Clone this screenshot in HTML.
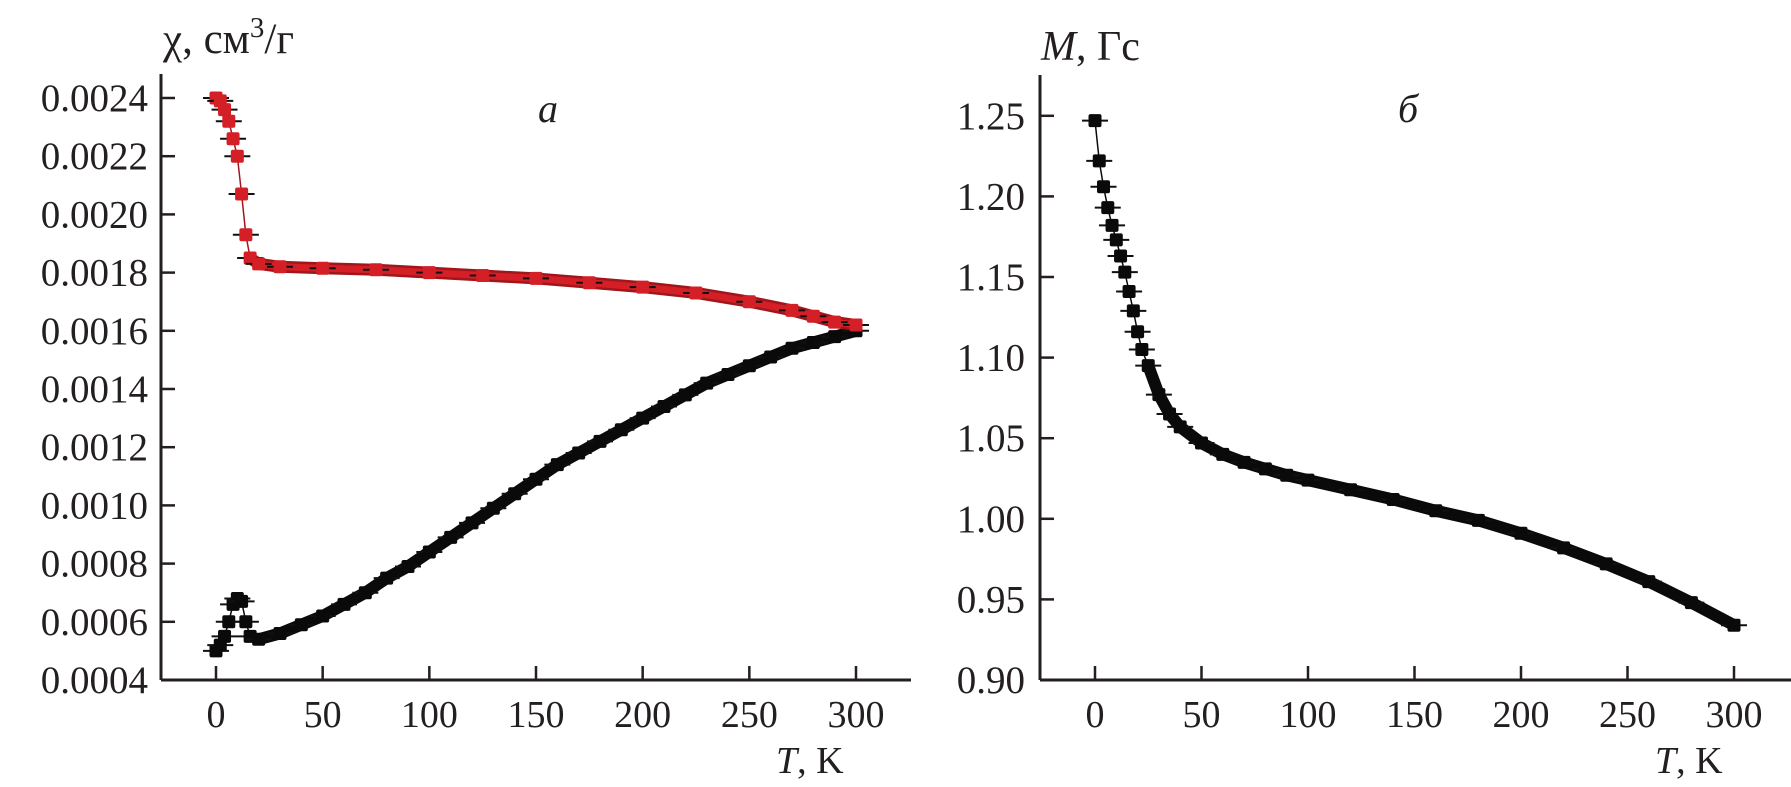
<!DOCTYPE html>
<html><head><meta charset="utf-8">
<style>
html,body{margin:0;padding:0;background:#fff;}
svg{display:block;}
text{font-family:"Liberation Serif",serif;fill:#231f20;}
</style></head>
<body>
<svg id="chart" width="1791" height="787" viewBox="0 0 1791 787" xmlns="http://www.w3.org/2000/svg">
</svg>
<script>
// Panel a data
const tempsFC = [0,2,4,6,8,10,12,14,16,20,30,50,75,100,125,150,175,200,225,250,270,280,290,300];
const chiFC = [0.00240,0.00239,0.00236,0.00232,0.00226,0.00220,0.00207,0.00193,0.00185,0.00183,0.00182,0.001815,0.00181,0.00180,0.00179,0.00178,0.001765,0.00175,0.00173,0.00170,0.00167,0.00165,0.00163,0.00162];
const tempsZFC = [0,2,4,6,8,10,12,14,16,20,30,40,50,60,70,80,90,100,110,120,130,140,150,160,170,180,190,200,210,220,230,240,250,260,270,280,290,300];
const chiZFC = [0.00050,0.00052,0.00055,0.00060,0.00066,0.00068,0.00067,0.00060,0.00055,0.00054,0.00056,0.00059,0.00062,0.00066,0.00070,0.00075,0.00079,0.00084,0.00089,0.00094,0.00099,0.00104,0.00109,0.00114,0.00118,0.00122,0.00126,0.00130,0.00134,0.00138,0.00142,0.00145,0.00148,0.00151,0.00154,0.00156,0.00158,0.00160];
const xTicks = [0,50,100,150,200,250,300];
const yTicksA = [0.0004,0.0006,0.0008,0.0010,0.0012,0.0014,0.0016,0.0018,0.0020,0.0022,0.0024];
const yLabelsA = ["0.0004","0.0006","0.0008","0.0010","0.0012","0.0014","0.0016","0.0018","0.0020","0.0022","0.0024"];
// Panel b data
const tempsM = [0,2,4,6,8,10,12,14,16,18,20,22,25,30,35,40,50,60,70,80,90,100,120,140,160,180,200,220,240,260,280,300];
const magM = [1.247,1.222,1.206,1.193,1.182,1.173,1.163,1.153,1.141,1.129,1.116,1.105,1.095,1.077,1.065,1.057,1.047,1.040,1.035,1.031,1.027,1.024,1.018,1.012,1.005,0.999,0.991,0.982,0.972,0.961,0.948,0.934];
const yTicksB = [0.90,0.95,1.00,1.05,1.10,1.15,1.20,1.25];
const yLabelsB = ["0.90","0.95","1.00","1.05","1.10","1.15","1.20","1.25"];

const NS="http://www.w3.org/2000/svg";
const svg=document.getElementById('chart');
function mk(tag,attrs,parent){const e=document.createElementNS(NS,tag);for(const k in attrs)e.setAttribute(k,attrs[k]);(parent||svg).appendChild(e);return e;}

const xA=t=>216+t*(640/300);
const yA=v=>680-(v-0.0004)/0.0002*58.2;
const xB=t=>1095+t*(639/300);
const yB=v=>680-(v-0.90)/0.05*80.6;

function axes(g,ax,x1,top,xf,yf,yt,yl,lblRight){
  const yl1=mk('line',{x1:ax,y1:top,x2:ax,y2:680,stroke:'#231f20','stroke-width':3},g);
  
  
  const xl=mk('line',{x1:ax,y1:680,x2:x1,y2:680,stroke:'#231f20','stroke-width':3},g);
  
  
  xTicks.forEach(t=>{
    const tk=mk('line',{x1:xf(t),y1:680,x2:xf(t),y2:666,stroke:'#231f20','stroke-width':2.5},g);
    
    
    const tx=mk('text',{x:xf(t),y:727,'text-anchor':'middle','font-size':38},g);
    tx.textContent=t;
    
    
  });
  yt.forEach((v,i)=>{
    const tk=mk('line',{x1:ax,y1:yf(v),x2:ax+14,y2:yf(v),stroke:'#231f20','stroke-width':2.5},g);
    
    
    const tx=mk('text',{x:lblRight,y:yf(v)+13,'text-anchor':'end','font-size':39},g);
    tx.textContent=yl[i];
    
    
  });
}

function series(g,ts,vs,xf,yf,fill,edge,band,bandStart,name){
  const all=ts.map((t,i)=>xf(t)+','+yf(vs[i])).join(' ');
  const thin=mk('polyline',{points:all,fill:'none',stroke:edge,'stroke-width':1.5},g);
  
  
  const bp=[];
  ts.forEach((t,i)=>{if(t>=bandStart)bp.push(xf(t)+','+yf(vs[i]));});
  const pl=mk('polyline',{points:bp.join(' '),fill:'none',stroke:edge,'stroke-width':band,'stroke-linejoin':'round','stroke-linecap':'round'},g);
  
  
  const pl2=mk('polyline',{points:bp.join(' '),fill:'none',stroke:fill,'stroke-width':band-5,'stroke-linejoin':'round'},g);
  
  
  ts.forEach((t,i)=>{
    const x=xf(t),y=yf(vs[i]);
    const eb=mk('line',{x1:x-13,y1:y,x2:x+13,y2:y,stroke:'#111','stroke-width':2},g);
    
    
    const r=mk('rect',{x:x-6.5,y:y-6.5,width:13,height:13,rx:2,fill:fill},g);
    
    
  });
}

// Panel a
const ga=mk('g',{});


axes(ga,161,911,74,xA,yA,yTicksA,yLabelsA,148);
series(ga,tempsZFC,chiZFC,xA,yA,'#0a0a0a','#0a0a0a',12,20,'zfc-series');
series(ga,tempsFC,chiFC,xA,yA,'#d41f26','#a0161c',12,16,'fc-series');
const ya=mk('text',{x:163,y:53,'font-size':43},ga);
ya.innerHTML='χ, см<tspan dy="-16" font-size="29">3</tspan><tspan dy="16">/г</tspan>';


const xa=mk('text',{x:776,y:773,'font-size':38},ga);
xa.innerHTML='<tspan font-style="italic">T</tspan>, K';


const la=mk('text',{x:538,y:122,'font-size':40,'font-style':'italic'},ga);
la.textContent='а';



// Panel b
const gb=mk('g',{});


axes(gb,1040,1791,75,xB,yB,yTicksB,yLabelsB,1025);
series(gb,tempsM,magM,xB,yB,'#0a0a0a','#0a0a0a',12,25,'magnetization-series');
const yb=mk('text',{x:1041,y:60,'font-size':42},gb);
yb.innerHTML='<tspan font-style="italic">M</tspan>, Гс';


const xb=mk('text',{x:1655,y:773,'font-size':38},gb);
xb.innerHTML='<tspan font-style="italic">T</tspan>, K';


const lb=mk('text',{x:1398,y:122,'font-size':40,'font-style':'italic'},gb);
lb.textContent='б';


</script>
</body></html>
